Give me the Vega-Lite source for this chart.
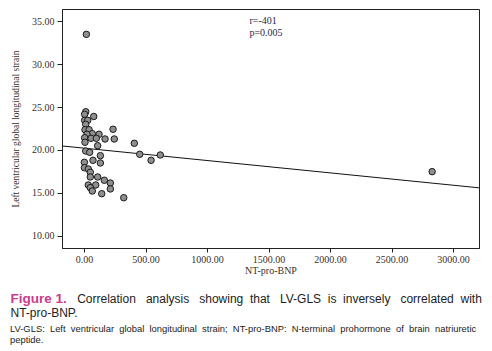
{
  "$schema": "https://vega.github.io/schema/vega-lite/v6.json",
  "padding": {"left": 10, "top": 8, "right": 12, "bottom": 0},
  "background": "white",
  "config": {"view": {"stroke": "#222222", "strokeWidth": 1}, "font": "Liberation Serif"},
  "title": {
    "text": ["\u200bLV-GLS:\u00a0\u00a0Left\u00a0\u00a0ventricular\u00a0\u00a0global\u00a0\u00a0longitudinal\u00a0\u00a0strain;\u00a0\u00a0NT-pro-BNP:\u00a0\u00a0N-terminal\u00a0\u00a0prohormone\u00a0\u00a0of\u00a0\u00a0brain\u00a0\u00a0natriuretic", "peptide."],
    "orient": "bottom", "anchor": "start", "fontSize": 9.4, "font": "Liberation Sans", "fontWeight": "normal",
    "color": "#222222", "lineHeight": 11, "offset": 6
  },
  "vconcat": [
    {
      "width": 417,
      "height": 239,
      "title": {
        "text": "Figure 1.",
        "subtitle": ["\u200b\u00a0\u00a0\u00a0\u00a0\u00a0\u00a0\u00a0\u00a0\u00a0\u00a0\u00a0\u00a0\u00a0\u00a0\u00a0\u00a0\u00a0\u00a0\u00a0\u00a0Correlation\u00a0\u00a0\u00a0analysis\u00a0\u00a0\u00a0showing\u00a0\u00a0that\u00a0\u00a0\u00a0LV-GLS\u00a0\u00a0is\u00a0\u00a0inversely\u00a0\u00a0\u00a0correlated\u00a0\u00a0with", "NT-pro-BNP."],
        "orient": "bottom", "anchor": "start",
        "font": "Liberation Sans", "fontSize": 13.5, "fontWeight": "bold", "color": "#cc3b8c",
        "subtitleFont": "Liberation Sans", "subtitleFontSize": 12, "subtitleColor": "#222222",
        "subtitleLineHeight": 14, "subtitlePadding": -12, "offset": 17
      },
      "encoding": {
        "x": {
          "field": "nt_pro_bnp", "type": "quantitative",
          "scale": {"domain": [-179, 3211], "nice": false, "zero": false},
          "axis": {
            "values": [0, 500, 1000, 1500, 2000, 2500, 3000], "format": ".2f", "title": "NT-pro-BNP",
            "grid": false, "tickSize": 4, "labelPadding": 2, "titlePadding": 1,
            "labelFont": "Liberation Serif", "labelFontSize": 10, "titleFont": "Liberation Serif", "titleFontSize": 10,
            "titleFontWeight": "normal", "domainColor": "#222222", "tickColor": "#222222",
            "labelColor": "#3a3028", "titleColor": "#3a3028"
          }
        },
        "y": {
          "field": "lv_gls", "type": "quantitative",
          "scale": {"domain": [8.6, 36.4], "nice": false, "zero": false},
          "axis": {
            "values": [10, 15, 20, 25, 30, 35], "format": ".2f", "title": "Left ventricular global longitudinal strain",
            "grid": false, "tickSize": 5, "labelPadding": 3, "titlePadding": 11,
            "labelFont": "Liberation Serif", "labelFontSize": 10, "titleFont": "Liberation Serif", "titleFontSize": 9.5,
            "titleFontWeight": "normal", "domainColor": "#222222", "tickColor": "#222222",
            "labelColor": "#3a3028", "titleColor": "#3a3028"
          }
        }
      },
      "layer": [
        {
          "data": {"values": [
            {"nt_pro_bnp": 2830, "lv_gls": 17.48}
          ]},
          "mark": {"type": "circle", "size": 42, "color": "#8f8f8f", "stroke": "#1a1a1a", "strokeWidth": 1, "opacity": 1}
        },
        {
          "data": {"values": [
            {"nt_pro_bnp": -179, "lv_gls": 20.47},
            {"nt_pro_bnp": 3211, "lv_gls": 15.6}
          ]},
          "mark": {"type": "line", "color": "#111111", "strokeWidth": 1}
        },
        {
          "data": {"values": [
            {"nt_pro_bnp": 19, "lv_gls": 33.45},
            {"nt_pro_bnp": 14, "lv_gls": 24.45},
            {"nt_pro_bnp": 5, "lv_gls": 24.15},
            {"nt_pro_bnp": 79, "lv_gls": 23.9},
            {"nt_pro_bnp": 5, "lv_gls": 23.45},
            {"nt_pro_bnp": 30, "lv_gls": 23.45},
            {"nt_pro_bnp": 14, "lv_gls": 22.99},
            {"nt_pro_bnp": 236, "lv_gls": 22.41},
            {"nt_pro_bnp": 8, "lv_gls": 22.36},
            {"nt_pro_bnp": 41, "lv_gls": 22.36},
            {"nt_pro_bnp": 67, "lv_gls": 21.9},
            {"nt_pro_bnp": 122, "lv_gls": 21.83},
            {"nt_pro_bnp": 24, "lv_gls": 21.83},
            {"nt_pro_bnp": 5, "lv_gls": 21.43},
            {"nt_pro_bnp": 57, "lv_gls": 21.36},
            {"nt_pro_bnp": 100, "lv_gls": 21.36},
            {"nt_pro_bnp": 171, "lv_gls": 21.28},
            {"nt_pro_bnp": 246, "lv_gls": 21.28},
            {"nt_pro_bnp": 8, "lv_gls": 20.9},
            {"nt_pro_bnp": 409, "lv_gls": 20.78},
            {"nt_pro_bnp": 111, "lv_gls": 20.5},
            {"nt_pro_bnp": 14, "lv_gls": 19.88},
            {"nt_pro_bnp": 46, "lv_gls": 19.73},
            {"nt_pro_bnp": 453, "lv_gls": 19.5},
            {"nt_pro_bnp": 620, "lv_gls": 19.42},
            {"nt_pro_bnp": 133, "lv_gls": 19.34},
            {"nt_pro_bnp": 73, "lv_gls": 18.8},
            {"nt_pro_bnp": 545, "lv_gls": 18.8},
            {"nt_pro_bnp": 133, "lv_gls": 18.49},
            {"nt_pro_bnp": 3, "lv_gls": 18.57},
            {"nt_pro_bnp": 3, "lv_gls": 17.94},
            {"nt_pro_bnp": 35, "lv_gls": 17.79},
            {"nt_pro_bnp": 51, "lv_gls": 17.41},
            {"nt_pro_bnp": 51, "lv_gls": 16.86},
            {"nt_pro_bnp": 111, "lv_gls": 16.86},
            {"nt_pro_bnp": 165, "lv_gls": 16.48},
            {"nt_pro_bnp": 214, "lv_gls": 16.16},
            {"nt_pro_bnp": 35, "lv_gls": 15.93},
            {"nt_pro_bnp": 95, "lv_gls": 15.93},
            {"nt_pro_bnp": 51, "lv_gls": 15.62},
            {"nt_pro_bnp": 214, "lv_gls": 15.47},
            {"nt_pro_bnp": 67, "lv_gls": 15.23},
            {"nt_pro_bnp": 144, "lv_gls": 14.92},
            {"nt_pro_bnp": 323, "lv_gls": 14.45}
          ]},
          "mark": {"type": "circle", "size": 42, "color": "#8f8f8f", "stroke": "#1a1a1a", "strokeWidth": 1, "opacity": 1}
        },
        {
          "data": {"values": [
            {"nt_pro_bnp": 1345, "lv_gls": 35.0, "label": "r=-401"},
            {"nt_pro_bnp": 1345, "lv_gls": 33.65, "label": "p=0.005"}
          ]},
          "mark": {"type": "text", "align": "left", "baseline": "middle", "font": "Liberation Serif", "fontSize": 10, "color": "#1f2a44"},
          "encoding": {"text": {"field": "label", "type": "nominal"}}
        }
      ]
    }
  ]
}
